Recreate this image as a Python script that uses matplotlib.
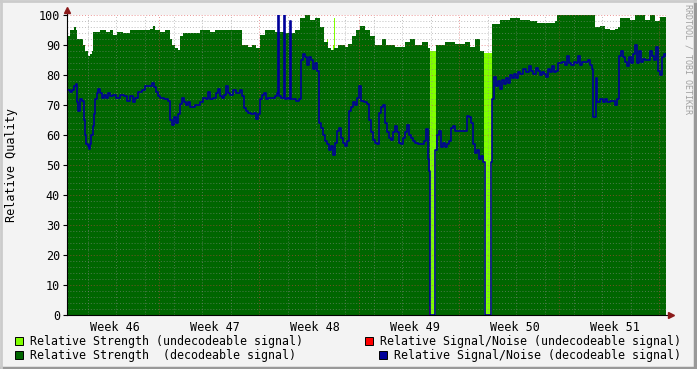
import numpy as np
import matplotlib.pyplot as plt
from matplotlib.patches import Rectangle

# time axis is in fractional ISO week numbers
strength_t = [46.077, 46.107, 46.147, 46.167, 46.177, 46.237, 46.257, 46.287, 46.307, 46.327,
              46.337, 46.407, 46.467, 46.507, 46.537, 46.577, 46.637, 46.707, 46.807, 46.907,
              46.937, 46.957, 47.007, 47.057, 47.107, 47.127, 47.157, 47.187, 47.207, 47.237,
              47.307, 47.407, 47.507, 47.557, 47.657, 47.757, 47.827, 47.887, 47.927, 47.967,
              48.007, 48.057, 48.157, 48.257, 48.357, 48.407, 48.457, 48.507, 48.557, 48.607,
              48.647, 48.687, 48.717, 48.747, 48.787, 48.857, 48.887, 48.927, 48.967, 49.007,
              49.057, 49.107, 49.157, 49.227, 49.267, 49.357, 49.457, 49.507, 49.557, 49.627,
              49.687, 49.707, 49.767, 49.857, 49.957, 50.057, 50.107, 50.157, 50.207, 50.247,
              50.327, 50.407, 50.507, 50.607, 50.707, 50.777, 50.957, 50.977, 51.337, 51.357,
              51.407, 51.457, 51.507, 51.557, 51.587, 51.607, 51.707, 51.757, 51.857, 51.907,
              51.957, 52.007, 52.067]
strength_dec = [93, 95, 96, 95, 92, 90, 88, 86.5, 87, 88,
                94.5, 95, 94.5, 95, 93.5, 94.5, 94, 95, 95, 95.5,
                96.5, 95, 94.5, 95, 92, 90, 89, 88.5, 93, 94,
                94, 95, 94.5, 95, 95, 95, 90, 89.5, 90, 89,
                93.5, 95, 94.5, 94, 95, 99, 100, 98.5, 99, 96,
                91, 89, 88.5, 89, 90, 89.5, 90.5, 93, 95, 96.5,
                95, 93, 90, 92, 90, 89.5, 91, 92, 90, 91,
                89, 0, 90, 91, 90.5, 91, 89.5, 92, 88, 0,
                97, 98.5, 99, 98.5, 98, 97.5, 98, 100, 100, 96,
                96.5, 95.5, 95, 95.5, 96, 99, 98.5, 100, 98.5, 100,
                98, 99.5, 99.5]

undec_t = [46.077, 48.677, 48.687, 48.737, 48.747, 48.757, 49.707, 49.767, 50.247, 50.327, 52.067]
strength_undec = [0, 92, 0, 90, 99, 0, 88, 0, 87.5, 0, 0]

snr_t = [46.077, 46.107, 46.127, 46.147, 46.167, 46.177, 46.187, 46.207, 46.227, 46.247,
         46.257, 46.267, 46.287, 46.297, 46.307, 46.317, 46.337, 46.347, 46.357, 46.377,
         46.387, 46.407, 46.427, 46.447, 46.467, 46.487, 46.507, 46.537, 46.567, 46.607,
         46.647, 46.677, 46.707, 46.737, 46.757, 46.787, 46.827, 46.857, 46.887, 46.927,
         46.947, 46.967, 46.987, 47.007, 47.047, 47.087, 47.107, 47.127, 47.147, 47.167,
         47.187, 47.207, 47.227, 47.247, 47.267, 47.287, 47.307, 47.357, 47.407, 47.437,
         47.467, 47.487, 47.507, 47.537, 47.567, 47.587, 47.607, 47.627, 47.647, 47.667,
         47.687, 47.707, 47.737, 47.767, 47.807, 47.827, 47.847, 47.867, 47.887, 47.917,
         47.947, 47.967, 47.987, 48.007, 48.027, 48.047, 48.067, 48.087, 48.157, 48.177,
         48.187, 48.197, 48.217, 48.247, 48.257, 48.277, 48.297, 48.307, 48.317, 48.367,
         48.397, 48.417, 48.437, 48.457, 48.477, 48.497, 48.517, 48.537, 48.557, 48.577,
         48.597, 48.617, 48.637, 48.657, 48.677, 48.697, 48.717, 48.737, 48.757, 48.777,
         48.797, 48.817, 48.837, 48.857, 48.877, 48.897, 48.917, 48.937, 48.957, 48.977,
         48.997, 49.017, 49.047, 49.077, 49.097, 49.117, 49.137, 49.157, 49.177, 49.197,
         49.217, 49.237, 49.257, 49.277, 49.297, 49.317, 49.337, 49.357, 49.377, 49.397,
         49.417, 49.437, 49.457, 49.477, 49.497, 49.517, 49.537, 49.557, 49.587, 49.647,
         49.667, 49.687, 49.697, 49.707, 49.757, 49.777, 49.797, 49.817, 49.837, 49.857,
         49.877, 49.897, 49.917, 49.937, 49.957, 50.077, 50.097, 50.117, 50.137, 50.157,
         50.177, 50.197, 50.217, 50.237, 50.257, 50.317, 50.327, 50.347, 50.367, 50.387,
         50.407, 50.427, 50.447, 50.467, 50.487, 50.507, 50.527, 50.547, 50.567, 50.587,
         50.607, 50.637, 50.667, 50.697, 50.717, 50.737, 50.767, 50.787, 50.807, 50.827,
         50.847, 50.867, 50.887, 50.907, 50.927, 50.947, 50.967, 50.987, 51.027, 51.057,
         51.077, 51.097, 51.117, 51.147, 51.167, 51.187, 51.207, 51.227, 51.287, 51.307,
         51.327, 51.337, 51.367, 51.377, 51.407, 51.437, 51.457, 51.477, 51.507, 51.557,
         51.577, 51.597, 51.617, 51.637, 51.657, 51.677, 51.697, 51.717, 51.737, 51.757,
         51.777, 51.797, 51.817, 51.837, 51.857, 51.907, 51.927, 51.947, 51.967, 51.987,
         52.007, 52.027, 52.047, 52.067]
snr_dec = [75, 74.5, 75, 76.5, 77, 71, 68, 72, 71.5, 65,
           60, 57, 56.5, 55.5, 57, 60, 63, 67, 72, 74,
           75.5, 74, 72.5, 73.5, 72.5, 74, 73, 73.5, 72.5, 73.5,
           73, 71.5, 73, 71, 72.5, 74.5, 75, 76.5, 76.5, 77.5,
           76, 74.5, 73, 72.5, 72, 71.5, 65, 63.5, 66, 64,
           67, 70.5, 72.5, 71, 70, 71, 69.5, 70, 71, 72.5,
           72, 74.5, 72, 72.5, 74, 75.5, 73, 72.5, 73.5, 76.5,
           74, 73.5, 75, 74, 75, 73, 69, 68, 67.5, 67,
           67.5, 65.5, 67, 72, 73.5, 74, 72, 72.5, 73, 74,
           100, 73, 72.5, 100, 72, 72.5, 72, 98, 72, 71.5,
           72, 85, 87, 86, 83.5, 86, 85, 82, 84, 81.5,
           64, 62.5, 60, 58, 57, 55, 56.5, 53.5, 57.5, 61.5,
           62.5, 59, 57.5, 56.5, 58, 68, 69.5, 71, 70, 72.5,
           76.5, 71.5, 71, 70.5, 65, 61, 58.5, 57.5, 57, 67.5,
           69.5, 70, 64, 61, 59, 58.5, 61, 63, 61, 57.5,
           57, 59, 61, 63.5, 60, 59, 58, 57.5, 57, 58,
           62, 52, 48, 0, 55, 60, 61.5, 56, 57.5, 56,
           57, 58, 62.5, 63, 61.5, 66.5, 66, 64, 57, 54,
           55, 52, 53, 51, 0, 51, 72, 79.5, 76.5, 78,
           75.5, 78.5, 77, 79, 77.5, 80, 79, 80.5, 79, 81,
           80.5, 82, 81, 83, 81.5, 80.5, 82.5, 81.5, 80, 81,
           80.5, 79.5, 82, 81, 83, 81, 81.5, 84, 84.5, 83.5,
           86.5, 84, 83.5, 84.5, 84, 86.5, 83.5, 84.5, 85, 83.5,
           82, 66, 79, 71, 72, 71, 72, 71, 71.5, 70,
           72, 86.5, 88, 86, 84.5, 83, 86, 84, 87, 90,
           84, 88, 84.5, 85.5, 85, 88, 86.5, 85, 89.5, 81.5,
           80, 86, 87, 86.5]

snr_undec_t = [46.077, 49.697, 49.707, 52.067]
snr_undec = [0, 3, 0, 0]

weeks = [46, 47, 48, 49, 50, 51]
y_ticks = list(range(0, 101, 10))

LIME = '#80ff00'
DGREEN = '#006600'
RED = '#ff0000'
BLUE = '#000099'
MONO = 'DejaVu Sans Mono'

plt.rcParams['font.family'] = MONO
fig = plt.figure(figsize=(6.97, 3.69), dpi=100, facecolor='#f3f3f3')
ax = fig.add_axes([67 / 697, 54 / 369, 599 / 697, 300 / 369])
ax.set_facecolor('white')

x0, x1 = strength_t[0], strength_t[-1]
ax.fill_between(undec_t, strength_undec, step='post', color=LIME, lw=0, zorder=1)
ax.fill_between(strength_t, strength_dec, step='post', color=DGREEN, lw=0, zorder=1.2)
ax.fill_between(snr_undec_t, snr_undec, step='post', color=RED, lw=0, zorder=1.3)
ax.plot(snr_t, snr_dec, drawstyle='steps-post', color=BLUE, lw=1.2, zorder=3)

ax.set_xlim(x0, x1)
ax.set_ylim(0, 100)

# grid, drawn over the areas like rrdtool does
dots = (0, (1, 2))
minor_col = (0.55, 0.55, 0.55, 0.55)
major_col = (0.85, 0.25, 0.25, 0.55)
for k in range(2, 101, 2):
    if k % 10:
        ax.axhline(k, color=minor_col, lw=0.7, ls=dots, zorder=2)
for k in y_ticks[1:]:
    ax.axhline(k, color=major_col, lw=0.7, ls=dots, zorder=2)
# two-day minor lines
for k in np.arange(46, x1, 2 / 7):
    if x0 < k < x1 and abs(k - round(k)) > 0.01:
        ax.axvline(k, color=minor_col, lw=0.7, ls=dots, zorder=2)
for w in weeks[1:] + [52]:
    if w < x1:
        ax.axvline(w, color=major_col, lw=0.7, ls=dots, zorder=2)

for s in ax.spines.values():
    s.set_visible(False)
ax.set_yticks(y_ticks)
ax.set_yticklabels([str(v) for v in y_ticks])
ax.set_xticks([w + 0.555 for w in weeks])
ax.set_xticklabels(['Week %d' % w for w in weeks])
ax.tick_params(axis='y', length=3, width=0.8, pad=2, labelsize=8.5, colors='black')
ax.tick_params(axis='x', length=0, pad=4, labelsize=8.5)

# axis lines with rrdtool style arrows
ax.plot([0, 0], [0, 1.017], transform=ax.transAxes, color='black', lw=0.8, clip_on=False, zorder=4)
ax.plot([0, 1.008], [0, 0], transform=ax.transAxes, color='black', lw=0.8, clip_on=False, zorder=4)
ax.plot(0, 1.017, marker='^', ms=4, color='#8b1a1a', transform=ax.transAxes, clip_on=False, zorder=5)
ax.plot(1.008, 0, marker='>', ms=4, color='#8b1a1a', transform=ax.transAxes, clip_on=False, zorder=5)

fig.text(12 / 697, 1 - 165 / 369, 'Relative Quality', rotation=90, ha='center', va='center', fontsize=8.5)
fig.text(688 / 697, 1 - 4 / 369, 'RRDTOOL / TOBI OETIKER', rotation=270, ha='center', va='top',
         fontsize=6, color='#a0a0a0')

legend = [
    (15, 337, 30, LIME, 'Relative Strength (undecodeable signal)'),
    (15, 351, 30, DGREEN, 'Relative Strength  (decodeable signal)'),
    (365, 337, 380, RED, 'Relative Signal/Noise (undecodeable signal)'),
    (379, 351, 394, BLUE, 'Relative Signal/Noise (decodeable signal)'),
]
for sx, sy, tx, col, label in legend:
    fig.add_artist(Rectangle((sx / 697, 1 - (sy + 8) / 369), 8 / 697, 8 / 369, transform=fig.transFigure,
                             facecolor=col, edgecolor='black', lw=0.7))
    fig.text(tx / 697, 1 - (sy + 4) / 369, label, ha='left', va='center', fontsize=8.4)

# 3d frame
fig.add_artist(plt.Line2D([0, 1], [0.004, 0.004], transform=fig.transFigure, color='#999999', lw=2.5))
fig.add_artist(plt.Line2D([0.997, 0.997], [0, 1], transform=fig.transFigure, color='#999999', lw=2.5))
fig.add_artist(plt.Line2D([0, 1], [0.997, 0.997], transform=fig.transFigure, color='#cbcbcb', lw=2))
fig.add_artist(plt.Line2D([0.002, 0.002], [0, 1], transform=fig.transFigure, color='#cbcbcb', lw=2))

fig.savefig('out.png', dpi=100, facecolor=fig.get_facecolor())
